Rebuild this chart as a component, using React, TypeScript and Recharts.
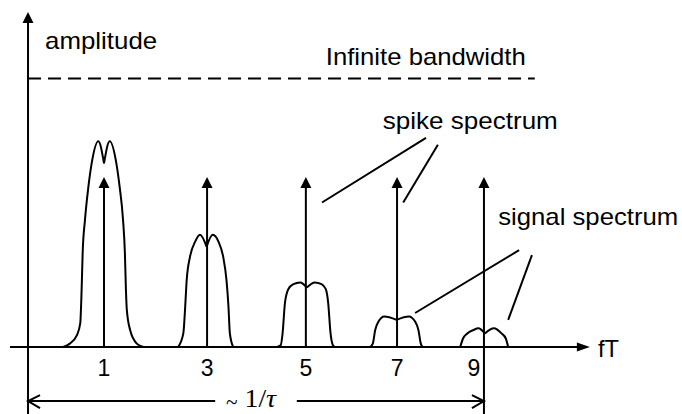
import { ComposedChart, XAxis, YAxis, Line, Scatter, ReferenceLine } from "recharts"

// frame in drawing units: fT along x, amplitude (spike = 1) along y
const X_MIN = -1.19
const X_MAX = 13.17
const Y_MIN = -0.394
const Y_MAX = 2.041

// spike spectrum
const spikePositions = [1, 3.17, 5.25, 7.17, 9]
const tickLabels = ["1", "3", "5", "7", "9"]
const spikeHeight = 1
const bandwidthLevel = 1.58

// signal spectrum humps, [fT, amplitude]
const hump1 = [
  [0.14, 0], [0.28, 0.02], [0.43, 0.07], [0.5, 0.14], [0.53, 0.35], [0.55, 0.55],
  [0.6, 0.75], [0.67, 0.94], [0.74, 1.08], [0.88, 1.21], [1.0, 1.08],
  [1.12, 1.21], [1.26, 1.08], [1.33, 0.94], [1.4, 0.75], [1.44, 0.55],
  [1.46, 0.35], [1.48, 0.22], [1.55, 0.1], [1.69, 0.02], [1.83, 0],
]
const hump3 = [
  [2.56, 0], [2.67, 0.08], [2.71, 0.24], [2.74, 0.39], [2.81, 0.53], [2.92, 0.62],
  [3.02, 0.66], [3.16, 0.59], [3.29, 0.66], [3.41, 0.62], [3.51, 0.53],
  [3.58, 0.39], [3.62, 0.24], [3.65, 0.08], [3.72, 0],
]
const hump5 = [
  [4.64, 0], [4.72, 0.01], [4.76, 0.08], [4.81, 0.26], [4.88, 0.34], [4.99, 0.37],
  [5.13, 0.38], [5.27, 0.35], [5.44, 0.38], [5.58, 0.37], [5.67, 0.34],
  [5.72, 0.26], [5.77, 0.08], [5.82, 0.01], [5.86, 0],
]
const hump7 = [
  [6.6, 0], [6.66, 0.02], [6.71, 0.1], [6.78, 0.15], [6.9, 0.18], [7.16, 0.16],
  [7.42, 0.18], [7.55, 0.15], [7.62, 0.1], [7.67, 0.02], [7.71, 0],
]
const hump9 = [
  [8.5, 0], [8.56, 0.05], [8.65, 0.08], [8.78, 0.1], [8.88, 0.11], [9.02, 0.08],
  [9.21, 0.11], [9.37, 0.08], [9.46, 0.05], [9.51, 0],
]
const humps = [hump1, hump3, hump5, hump7, hump9]

// layout of axes and annotations
const axisX = -0.6
const axisStart = -0.98
const axisEnd = 11.23
const axisTop = 1.97
const dashEnd = 10.07
const tauLevel = -0.318
const tauGap = [3.34, 5.06]
const tickNudge = [0, 0, 0, 0, -10]

const notes = [
  { text: "amplitude", x: -0.24, y: 1.75, width: 112 },
  { text: "Infinite bandwidth", x: 5.67, y: 1.66, width: 200 },
  { text: "spike spectrum", x: 6.87, y: 1.28, width: 175 },
  { text: "signal spectrum", x: 9.3, y: 0.72, width: 180 },
  { text: "fT", x: 11.4, y: -0.06, width: 21 },
]

const leaders = [
  [[7.78, 1.23], [5.59, 0.85]],
  [[8.03, 1.19], [7.3, 0.85]],
  [[9.74, 0.57], [7.55, 0.2]],
  [[10.01, 0.54], [9.51, 0.16]],
]

const FONT = "'Liberation Sans', Arial, sans-serif"
const INK = "#000"

// split a hump at the point nearest its spike so the two arches meet in a cusp
function arches(points: number[][], center: number) {
  let k = 0
  points.forEach(([x], i) => {
    if (Math.abs(x - center) < Math.abs(points[k][0] - center)) k = i
  })
  const pts = points.map(([x, y]) => ({ x, y }))
  return [pts.slice(0, k + 1), pts.slice(k)]
}

const UpArrow = (p: any) => (
  <path d={`M${p.cx},${p.cy} L${p.cx - 5.5},${p.cy + 11} L${p.cx + 5.5},${p.cy + 11} Z`} fill={INK} />
)
const RightArrow = (p: any) => (
  <path d={`M${p.cx},${p.cy} L${p.cx - 13},${p.cy - 4.5} L${p.cx - 13},${p.cy + 4.5} Z`} fill={INK} />
)
const OpenHead = (p: any) => {
  const s = p.payload.dir
  return (
    <path
      d={`M${p.cx + 12 * s},${p.cy - 6} L${p.cx},${p.cy} L${p.cx + 12 * s},${p.cy + 7}`}
      fill="none"
      stroke={INK}
      strokeWidth={2}
    />
  )
}
const TickText = (p: any) => (
  <text
    x={p.cx + tickNudge[p.payload.i]}
    y={p.cy + 29}
    textAnchor="middle"
    fontFamily={FONT}
    fontSize={23}
    fill={INK}
  >
    {p.payload.label}
  </text>
)
const NoteText = (p: any) => (
  <text
    x={p.cx}
    y={p.cy}
    fontFamily={FONT}
    fontSize={24}
    fill={INK}
    textLength={p.payload.width}
    lengthAdjust="spacingAndGlyphs"
  >
    {p.payload.text}
  </text>
)
const TauText = (p: any) => (
  <text
    x={p.cx}
    y={p.cy}
    fontFamily="'Liberation Serif', 'Times New Roman', serif"
    fontSize={26}
    fill={INK}
    textLength={50}
    lengthAdjust="spacingAndGlyphs"
  >
    <tspan fontSize={20} dy={2}>~</tspan>
    <tspan dy={-2}> 1/</tspan>
    <tspan fontStyle="italic">τ</tspan>
  </text>
)

export default function App() {
  const lastSpike = spikePositions[spikePositions.length - 1]
  return (
    <div style={{ position: "absolute", left: 0, top: 0, background: "#fff" }}>
      <ComposedChart width={682} height={414} margin={{ top: 0, right: 0, bottom: 0, left: 0 }}>
        <XAxis type="number" dataKey="x" domain={[X_MIN, X_MAX]} hide allowDataOverflow />
        <YAxis type="number" domain={[Y_MIN, Y_MAX]} hide allowDataOverflow />

        {/* axes */}
        <ReferenceLine segment={[{ x: axisX, y: Y_MIN }, { x: axisX, y: axisTop - 0.05 }]} stroke={INK} strokeWidth={2} />
        <ReferenceLine segment={[{ x: axisStart, y: 0 }, { x: axisEnd - 0.2, y: 0 }]} stroke={INK} strokeWidth={2} />
        <ReferenceLine
          segment={[{ x: axisX, y: bandwidthLevel }, { x: dashEnd, y: bandwidthLevel }]}
          stroke={INK}
          strokeWidth={2}
          strokeDasharray="13 7"
        />

        {/* spikes */}
        {spikePositions.map((x) => (
          <ReferenceLine key={x} segment={[{ x, y: 0 }, { x, y: spikeHeight - 0.04 }]} stroke={INK} strokeWidth={2} />
        ))}
        <ReferenceLine segment={[{ x: lastSpike, y: Y_MIN }, { x: lastSpike, y: 0 }]} stroke={INK} strokeWidth={2} />

        {/* ~1/tau span */}
        <ReferenceLine segment={[{ x: axisX, y: tauLevel }, { x: tauGap[0], y: tauLevel }]} stroke={INK} strokeWidth={2} />
        <ReferenceLine segment={[{ x: tauGap[1], y: tauLevel }, { x: lastSpike, y: tauLevel }]} stroke={INK} strokeWidth={2} />

        {/* leader lines */}
        {leaders.map(([a, b], i) => (
          <ReferenceLine key={i} segment={[{ x: a[0], y: a[1] }, { x: b[0], y: b[1] }]} stroke={INK} strokeWidth={2} />
        ))}

        {/* signal spectrum */}
        {humps.flatMap((h, i) =>
          arches(h, spikePositions[i]).map((arch, j) => (
            <Line
              key={`${i}-${j}`}
              data={arch}
              dataKey="y"
              type="monotone"
              stroke={INK}
              strokeWidth={2}
              dot={false}
              activeDot={false}
              isAnimationActive={false}
            />
          ))
        )}

        <Scatter
          data={[...spikePositions.map((x) => ({ x, y: spikeHeight })), { x: axisX, y: axisTop }]}
          dataKey="y"
          shape={UpArrow}
          isAnimationActive={false}
        />
        <Scatter data={[{ x: axisEnd, y: 0 }]} dataKey="y" shape={RightArrow} isAnimationActive={false} />
        <Scatter
          data={[{ x: axisX, y: tauLevel, dir: 1 }, { x: lastSpike, y: tauLevel, dir: -1 }]}
          dataKey="y"
          shape={OpenHead}
          isAnimationActive={false}
        />
        <Scatter
          data={spikePositions.map((x, i) => ({ x, y: 0, label: tickLabels[i], i }))}
          dataKey="y"
          shape={TickText}
          isAnimationActive={false}
        />
        <Scatter data={notes} dataKey="y" shape={NoteText} isAnimationActive={false} />
        <Scatter data={[{ x: 3.57, y: -0.35 }]} dataKey="y" shape={TauText} isAnimationActive={false} />
      </ComposedChart>
    </div>
  )
}
